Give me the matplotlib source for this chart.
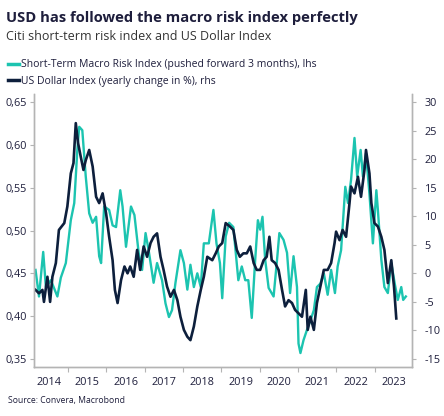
import matplotlib.pyplot as plt
from matplotlib.lines import Line2D
from matplotlib.ticker import FuncFormatter, FixedLocator

plt.rcParams['font.family'] = ['Open Sans', 'DejaVu Sans']
plt.rcParams['axes.unicode_minus'] = False

# Short-term macro risk index (pushed forward 3 months), lhs
risk_t = [2014.15, 2014.24, 2014.35, 2014.42, 2014.55, 2014.72, 2014.81, 2014.94,
          2015.07, 2015.16, 2015.24, 2015.29, 2015.37, 2015.46, 2015.55, 2015.64,
          2015.73, 2015.81, 2015.86, 2015.94, 2016.07, 2016.16, 2016.25, 2016.36,
          2016.42, 2016.51, 2016.64, 2016.73, 2016.84, 2016.93, 2017.02, 2017.10,
          2017.23, 2017.32, 2017.45, 2017.54, 2017.63, 2017.71, 2017.80, 2017.93,
          2018.02, 2018.11, 2018.19, 2018.28, 2018.37, 2018.46, 2018.54, 2018.67,
          2018.79, 2018.87, 2018.96, 2019.02, 2019.11, 2019.20, 2019.31, 2019.44,
          2019.53, 2019.62, 2019.70, 2019.79, 2019.88, 2019.95, 2020.01, 2020.07,
          2020.14, 2020.23, 2020.36, 2020.45, 2020.51, 2020.62, 2020.71, 2020.79,
          2020.88, 2020.97, 2021.01, 2021.06, 2021.14, 2021.23, 2021.32, 2021.41,
          2021.49, 2021.58, 2021.67, 2021.77, 2021.86, 2021.96, 2022.03, 2022.12,
          2022.23, 2022.30, 2022.38, 2022.47, 2022.54, 2022.63, 2022.69, 2022.77,
          2022.86, 2022.95, 2023.04, 2023.08, 2023.17, 2023.25, 2023.34, 2023.43,
          2023.52, 2023.60, 2023.69, 2023.74, 2023.81]
risk_v = [0.454, 0.423, 0.475, 0.434, 0.442, 0.423, 0.445, 0.462,
          0.512, 0.532, 0.594, 0.621, 0.617, 0.563, 0.520, 0.509,
          0.516, 0.470, 0.462, 0.528, 0.524, 0.506, 0.504, 0.547,
          0.528, 0.481, 0.528, 0.518, 0.474, 0.454, 0.497, 0.477,
          0.439, 0.462, 0.442, 0.415, 0.399, 0.407, 0.439, 0.477,
          0.462, 0.431, 0.460, 0.434, 0.450, 0.434, 0.485, 0.485,
          0.524, 0.485, 0.462, 0.421, 0.493, 0.509, 0.504, 0.442,
          0.458, 0.442, 0.442, 0.398, 0.466, 0.512, 0.501, 0.516,
          0.466, 0.433, 0.423, 0.466, 0.497, 0.489, 0.474, 0.427,
          0.470, 0.434, 0.368, 0.357, 0.372, 0.384, 0.395, 0.407,
          0.434, 0.438, 0.450, 0.425, 0.454, 0.427, 0.458, 0.477,
          0.551, 0.532, 0.559, 0.608, 0.563, 0.594, 0.563, 0.590,
          0.543, 0.485, 0.547, 0.524, 0.466, 0.434, 0.427, 0.462,
          0.438, 0.419, 0.434, 0.419, 0.423]

# US Dollar Index, yearly change in %, rhs
usd_t = [2014.15, 2014.24, 2014.33, 2014.37, 2014.46, 2014.53, 2014.59, 2014.68,
         2014.76, 2014.90, 2014.98, 2015.07, 2015.14, 2015.20, 2015.26, 2015.33,
         2015.40, 2015.46, 2015.55, 2015.64, 2015.73, 2015.81, 2015.90, 2015.99,
         2016.07, 2016.16, 2016.22, 2016.29, 2016.38, 2016.47, 2016.55, 2016.62,
         2016.71, 2016.80, 2016.88, 2016.97, 2017.06, 2017.15, 2017.23, 2017.32,
         2017.41, 2017.49, 2017.58, 2017.67, 2017.76, 2017.85, 2017.93, 2018.02,
         2018.11, 2018.19, 2018.28, 2018.37, 2018.46, 2018.54, 2018.63, 2018.76,
         2018.85, 2018.93, 2019.02, 2019.11, 2019.22, 2019.31, 2019.40, 2019.48,
         2019.57, 2019.66, 2019.75, 2019.84, 2019.92, 2020.01, 2020.10, 2020.18,
         2020.25, 2020.31, 2020.40, 2020.49, 2020.58, 2020.66, 2020.75, 2020.84,
         2020.92, 2021.01, 2021.10, 2021.20, 2021.25, 2021.32, 2021.41, 2021.49,
         2021.58, 2021.67, 2021.77, 2021.86, 2021.95, 2021.99, 2022.08, 2022.16,
         2022.25, 2022.34, 2022.38, 2022.47, 2022.56, 2022.64, 2022.73, 2022.77,
         2022.86, 2022.91, 2022.99, 2023.08, 2023.17, 2023.25, 2023.34, 2023.43,
         2023.50, 2023.56]
usd_v = [-2.9, -3.5, -2.9, -5.0, -0.6, -5.0, -0.6, 1.8,
         7.6, 8.8, 11.7, 17.5, 19.3, 26.3, 22.8, 20.4,
         18.1, 19.8, 21.6, 18.7, 13.4, 12.3, 14.0, 10.5,
         6.4, 2.3, -2.9, -5.2, -1.2, 1.2, 0.0, 1.2,
         -0.6, 4.1, 0.6, 4.7, 2.9, 5.3, 6.4, 7.0,
         2.9, 0.6, -2.3, -4.1, -2.9, -4.7, -7.6, -9.9,
         -11.1, -11.7, -9.3, -5.8, -2.9, -0.6, 2.9, 2.3,
         3.5, 4.7, 5.3, 8.8, 8.2, 7.6, 4.1, 2.9,
         3.5, 3.5, 4.7, 1.8, 0.6, 0.6, 2.3, 2.9,
         6.4, 2.3, 1.8, 0.6, -2.9, -5.8, -4.7, -5.2,
         -6.4, -7.0, -7.6, -2.9, -9.9, -7.6, -9.9, -5.2,
         -2.3, 0.6, 0.6, 1.8, 5.3, 7.3, 5.8, 7.6,
         6.4, 12.3, 15.2, 14.0, 16.9, 13.4, 18.1, 21.6,
         17.5, 12.3, 8.8, 8.2, 6.4, 4.1, -1.7, 2.3,
         -2.3, -7.9]

years = list(range(2014, 2024))

teal = '#1cc4b0'
navy = '#0d1f3c'
grey = '#b4b4b4'
txt = '#1e1e3c'

fig = plt.figure(figsize=(4.44, 4.16), dpi=100)
ax = fig.add_axes([34 / 444, 1 - 367 / 416, 378 / 444, 273 / 416])
ax2 = ax.twinx()

ax.plot(risk_t, risk_v, color=teal, lw=1.7)
ax2.plot(usd_t, usd_v, color=navy, lw=1.9)

ax.set_xlim(2014.11, 2023.97)
ax.set_ylim(0.3407, 0.6593)
ax2.set_ylim(-16.4, 31.4)

ax.set_yticks([0.35, 0.40, 0.45, 0.50, 0.55, 0.60, 0.65])
ax.yaxis.set_major_formatter(FuncFormatter(lambda v, p: f'{v:.2f}'.replace('.', ',')))
ax2.set_yticks(range(-15, 31, 5))

ax.xaxis.set_major_locator(FixedLocator(years[1:]))
ax.xaxis.set_minor_locator(FixedLocator([y + 0.5 for y in years]))
ax.set_xticklabels([])
ax.set_xticklabels([str(y) for y in years], minor=True)
ax.tick_params(axis='x', which='major', length=3.5, width=0.8, color=grey)
ax.tick_params(axis='x', which='minor', length=0, pad=7, labelsize=7.8, labelcolor=txt)
ax.tick_params(axis='y', length=3, width=0.8, color=grey, pad=2, labelsize=7.8, labelcolor=txt)
ax2.tick_params(axis='y', length=3, width=0.8, color=grey, pad=6, labelsize=7.8, labelcolor=txt)

for a in (ax, ax2):
    a.spines['top'].set_visible(False)
    for s in ('left', 'right', 'bottom'):
        a.spines[s].set_color(grey)
        a.spines[s].set_linewidth(1)

fig.text(6 / 444, 1 - 18 / 416, 'USD has followed the macro risk index perfectly',
         fontsize=10.6, fontweight='bold', color=txt, va='center')
fig.text(6 / 444, 1 - 37 / 416, 'Citi short-term risk index and US Dollar Index',
         fontsize=9.0, color='#333333', va='center')

handles = [Line2D([], [], color=teal, lw=2.5), Line2D([], [], color=navy, lw=2.5)]
labels = ['Short-Term Macro Risk Index (pushed forward 3 months), lhs',
          'US Dollar Index (yearly change in %), rhs']
fig.legend(handles, labels, loc='upper left', bbox_to_anchor=(1 / 444, 1 - 52 / 416),
           frameon=False, fontsize=7.5, handlelength=1.0, handletextpad=0.2,
           labelspacing=0.55, borderpad=0.2, labelcolor=txt)

fig.text(8 / 444, 1 - 400 / 416, 'Source: Convera, Macrobond', fontsize=6.2, color=txt, va='center')

fig.savefig('out.png', dpi=100)
